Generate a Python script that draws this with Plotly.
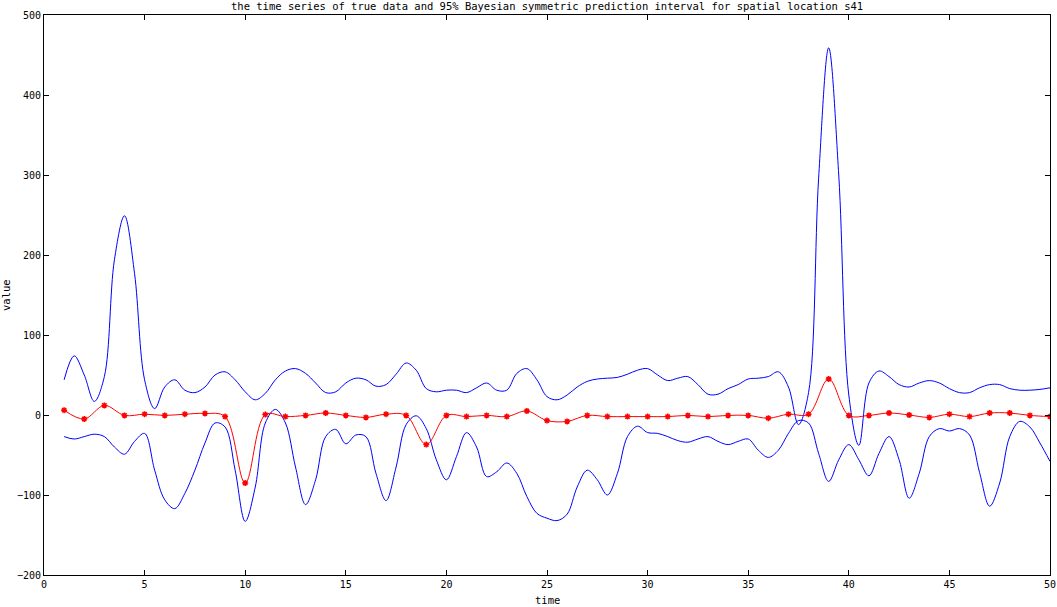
import plotly.graph_objects as go

# time grid for bounds (read every half time unit from the picture)
t_bounds = [i / 2 for i in range(2, 101)]

upper = [44, 74, 50, 17, 48, 194, 249, 177, 44, 8,
         35, 44, 31, 28, 35, 50, 54, 44, 29, 19,
         27, 44, 55, 58, 52, 40, 28, 29, 40, 46,
         44, 36, 38, 51, 65, 56, 33, 29, 31, 31,
         28, 34, 40, 31, 31, 52, 58, 44, 23, 19,
         25, 35, 42, 45, 46, 47, 51, 56, 58, 50,
         43, 46, 48, 38, 26, 26, 33, 38, 45, 46,
         48, 54, 35, -12, 28, 296, 459, 300, 25, -38,
         40, 55, 48, 38, 35, 40, 43, 40, 33, 28,
         28, 34, 38, 38, 33, 31, 31, 32, 34]

lower = [-27, -30, -27, -24, -27, -40, -49, -33, -23, -69,
         -106, -117, -98, -69, -35, -10, -15, -69, -133, -90,
         -10, 7, -10, -65, -112, -81, -27, -18, -36, -25,
         -27, -73, -107, -65, -12, -1, -17, -56, -81, -52,
         -22, -40, -77, -71, -60, -73, -102, -123, -129, -132,
         -124, -90, -69, -81, -100, -73, -27, -14, -22, -23,
         -27, -32, -34, -30, -27, -33, -37, -33, -30, -44,
         -53, -44, -23, -7, -10, -48, -83, -56, -37, -56,
         -76, -48, -27, -56, -104, -73, -27, -17, -20, -17,
         -25, -72, -114, -85, -27, -8, -15, -35, -58]

t_true = list(range(1, 51))
true_vals = [6, -5, 12, -0.5, 1, -0.5, 1, 2, -2, -85,
             0.5, -2, -0.5, 2.5, -0.5, -3, 1, -0.5, -37, -0.5,
             -2, -0.5, -2, 5, -7, -8, -0.5, -2, -2, -2,
             -2, -0.5, -2, -0.5, -0.5, -4, 1, 1, 45, -0.5,
             -0.5, 2.5, 0, -3, 1, -2, 2.5, 2.5, -0.5, -2]

x_ticks = list(range(0, 51, 5))
y_ticks = list(range(-200, 501, 100))

title_text = "the time series of true data and 95% Bayesian symmetric prediction interval for spatial location s41"
x_label = "time"
y_label = "value"

FONT = "DejaVu Sans Mono"

fig = go.Figure()
fig.add_trace(go.Scatter(x=t_bounds, y=upper, mode="lines",
                         line=dict(color="#0000ff", width=1, shape="spline", smoothing=1.0),
                         showlegend=False, hoverinfo="skip"))
fig.add_trace(go.Scatter(x=t_bounds, y=lower, mode="lines",
                         line=dict(color="#0000ff", width=1, shape="spline", smoothing=1.0),
                         showlegend=False, hoverinfo="skip"))
fig.add_trace(go.Scatter(x=t_true, y=true_vals, mode="lines+markers",
                         line=dict(color="#ff0000", width=1, shape="spline", smoothing=1.0),
                         marker=dict(symbol="asterisk-open", size=5, color="#ff0000",
                                     line=dict(color="#ff0000", width=1.5)),
                         showlegend=False))

axis_common = dict(showgrid=False, zeroline=False, showline=True, linecolor="black",
                   linewidth=1, mirror="ticks", ticks="inside", ticklen=5,
                   tickcolor="black", automargin=False,
                   tickfont=dict(family=FONT, size=10, color="black"))

fig.update_layout(
    width=1057, height=607,
    margin=dict(l=44, r=7, t=15, b=32, autoexpand=False),
    paper_bgcolor="white", plot_bgcolor="white",
    xaxis=dict(range=[0, 50], tickvals=x_ticks, **axis_common),
    yaxis=dict(range=[-200, 500], tickvals=y_ticks, **axis_common),
    annotations=[
        dict(text=title_text, xref="paper", yref="paper", x=0.5, y=1, yshift=9,
             xanchor="center", yanchor="middle", showarrow=False,
             font=dict(family=FONT, size=10.5, color="black")),
        dict(text=x_label, xref="paper", yref="paper", x=0.5, y=0, yshift=-25,
             xanchor="center", yanchor="middle", showarrow=False,
             font=dict(family=FONT, size=10.5, color="black")),
        dict(text=y_label, xref="paper", yref="paper", x=0, y=0.5, xshift=-38,
             xanchor="center", yanchor="middle", showarrow=False, textangle=-90,
             font=dict(family=FONT, size=10.5, color="black")),
    ],
)

# remove the default page margin so the figure sits at the window's top-left corner
fig.write_html("out.html", config={"displayModeBar": False},
               post_script="document.body.style.margin='0';")
